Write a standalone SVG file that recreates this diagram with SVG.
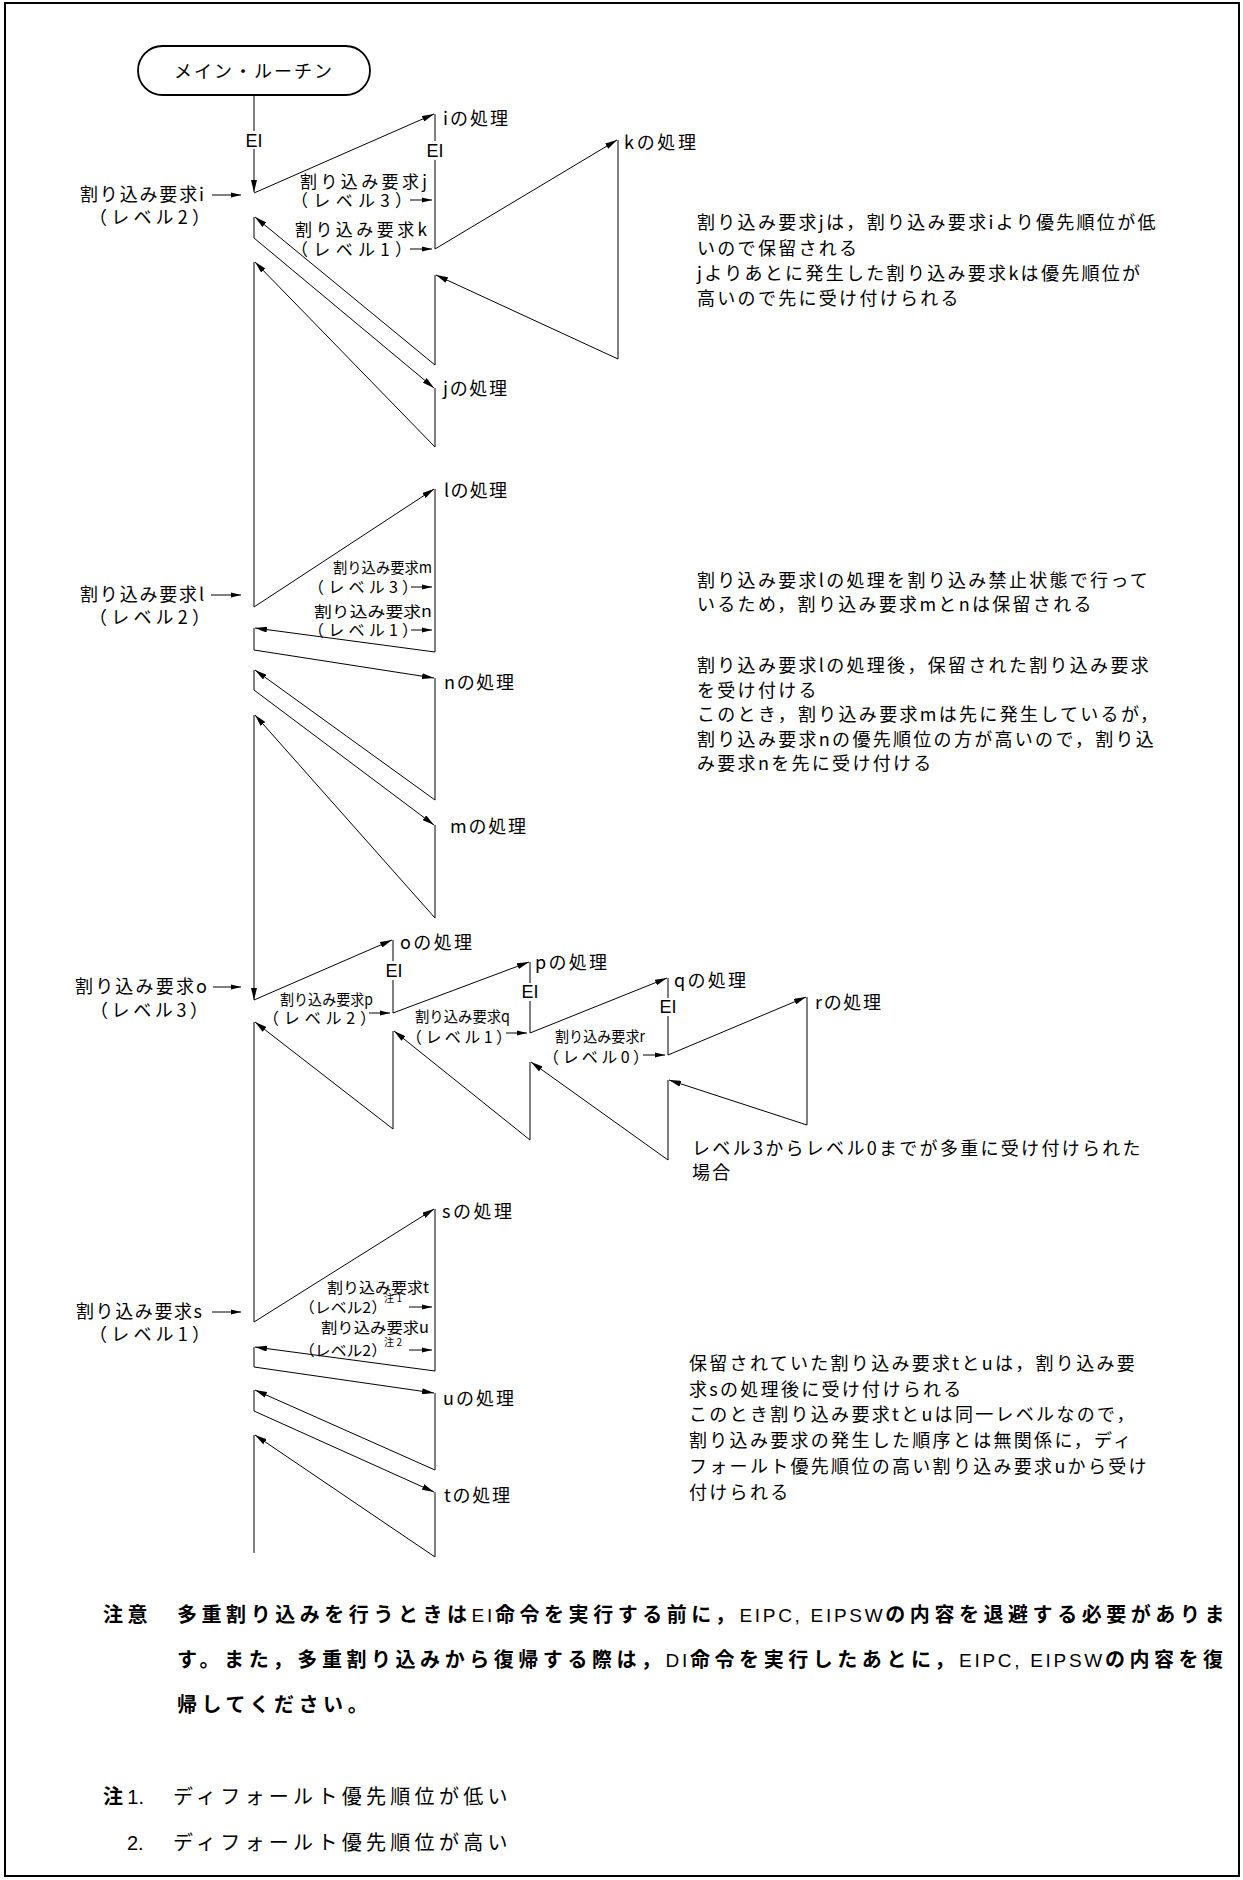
<svg xmlns="http://www.w3.org/2000/svg" width="1243" height="1880" viewBox="0 0 1243 1880">
<style>
.ln{stroke:#000;stroke-width:1;fill:none}
.ar{marker-end:url(#ah)}
.sa{marker-end:url(#sh)}
.jp{font-family:"Noto Sans CJK JP","Noto Sans CJK SC",sans-serif;font-size:18px;fill:#000}
.md{font-size:17px}
.sm{font-size:15px}
.lv{font-size:16px}
.ei{font-family:"Liberation Sans",Arial,sans-serif;font-size:18px;fill:#000;text-anchor:middle}
.rt{font-family:"Noto Sans CJK JP","Noto Sans CJK SC",sans-serif;font-size:18px;letter-spacing:2.3px;fill:#000}
.bd{font-family:"Noto Sans CJK JP","Noto Sans CJK SC",sans-serif;font-size:20px;font-weight:bold;letter-spacing:4.55px;fill:#000}
.lt{font-family:"Liberation Sans",Arial,sans-serif;font-weight:normal;font-size:19px;letter-spacing:2.7px}
.nt{font-family:"Noto Sans CJK JP","Noto Sans CJK SC",sans-serif;font-size:20px;letter-spacing:4.3px;fill:#000}
</style>
<defs>
<marker id="ah" markerUnits="userSpaceOnUse" markerWidth="12" markerHeight="6" refX="12" refY="3" orient="auto"><path d="M0,0 L12,3 L0,6 z" fill="#000"/></marker>
<marker id="sh" markerUnits="userSpaceOnUse" markerWidth="10" markerHeight="6" refX="10" refY="3" orient="auto"><path d="M0,0.5 L10,3 L0,5.5 z" fill="#000"/></marker>
</defs>
<rect x="0" y="0" width="1243" height="1880" fill="#fff"/>
<rect x="5" y="3" width="1234" height="1873" fill="none" stroke="#000" stroke-width="2"/>

<g id="main-routine">
<rect x="138" y="46" width="232" height="49" rx="24.5" fill="#fff" stroke="#000" stroke-width="1.8"/>
<text class="jp" x="254" y="78" text-anchor="middle" letter-spacing="2">メイン・ルーチン</text>
</g>

<g id="connectors" class="ln">
<line x1="254" y1="95" x2="254" y2="131"/>
<line class="ar" x1="254" y1="149" x2="254" y2="192"/>
<line class="ar" x1="254" y1="193" x2="434" y2="114"/>
<line x1="435" y1="114" x2="435" y2="141"/>
<line x1="435" y1="160" x2="435" y2="249"/>
<line class="ar" x1="435" y1="249" x2="617" y2="140"/>
<line x1="618" y1="140" x2="618" y2="359"/>
<line class="ar" x1="618" y1="359" x2="436" y2="275"/>
<line x1="435" y1="275" x2="435" y2="365"/>
<line class="ar" x1="435" y1="365" x2="255" y2="217"/>
<line x1="254" y1="217" x2="254" y2="238"/>
<line class="ar" x1="254" y1="238" x2="434" y2="388"/>
<line x1="435" y1="388" x2="435" y2="447"/>
<line class="ar" x1="435" y1="447" x2="255" y2="262"/>
<line x1="254" y1="262" x2="254" y2="607"/>
<line class="ar" x1="254" y1="607" x2="434" y2="489"/>
<line x1="435" y1="489" x2="435" y2="652"/>
<line class="ar" x1="435" y1="652" x2="255" y2="628"/>
<line x1="254" y1="628" x2="254" y2="650"/>
<line class="ar" x1="254" y1="650" x2="434" y2="678"/>
<line x1="435" y1="678" x2="435" y2="800"/>
<line class="ar" x1="435" y1="800" x2="255" y2="670"/>
<line x1="254" y1="670" x2="254" y2="690"/>
<line class="ar" x1="254" y1="690" x2="434" y2="825"/>
<line x1="435" y1="825" x2="435" y2="918"/>
<line class="ar" x1="435" y1="918" x2="255" y2="715"/>
<line class="ar" x1="254" y1="715" x2="254" y2="1000"/>
<line class="ar" x1="254" y1="1000" x2="392" y2="940"/>
<line x1="393" y1="940" x2="393" y2="961"/>
<line x1="393" y1="980" x2="393" y2="1013"/>
<line class="ar" x1="393" y1="1013" x2="529" y2="962"/>
<line x1="530" y1="962" x2="530" y2="983"/>
<line x1="530" y1="1001" x2="530" y2="1033"/>
<line class="ar" x1="530" y1="1033" x2="667" y2="978"/>
<line x1="668" y1="978" x2="668" y2="998"/>
<line x1="668" y1="1016" x2="668" y2="1055"/>
<line class="ar" x1="668" y1="1055" x2="806" y2="997"/>
<line x1="807" y1="997" x2="807" y2="1125"/>
<line class="ar" x1="807" y1="1125" x2="669" y2="1080"/>
<line x1="668" y1="1080" x2="668" y2="1160"/>
<line class="ar" x1="668" y1="1160" x2="531" y2="1062"/>
<line x1="530" y1="1062" x2="530" y2="1140"/>
<line class="ar" x1="530" y1="1140" x2="394" y2="1031"/>
<line x1="393" y1="1031" x2="393" y2="1129"/>
<line class="ar" x1="393" y1="1129" x2="255" y2="1022"/>
<line x1="254" y1="1022" x2="254" y2="1322"/>
<line class="ar" x1="254" y1="1322" x2="434" y2="1209"/>
<line x1="435" y1="1209" x2="435" y2="1371"/>
<line class="ar" x1="435" y1="1371" x2="255" y2="1347"/>
<line x1="254" y1="1347" x2="254" y2="1367"/>
<line class="ar" x1="254" y1="1367" x2="434" y2="1393"/>
<line x1="435" y1="1393" x2="435" y2="1470"/>
<line class="ar" x1="435" y1="1470" x2="255" y2="1390"/>
<line x1="254" y1="1390" x2="254" y2="1411"/>
<line class="ar" x1="254" y1="1411" x2="434" y2="1492"/>
<line x1="435" y1="1492" x2="435" y2="1557"/>
<line class="ar" x1="435" y1="1557" x2="255" y2="1435"/>
<line x1="254" y1="1435" x2="254" y2="1553"/>
<line class="sa" x1="212" y1="195" x2="241" y2="195"/>
<line class="sa" x1="410" y1="200" x2="432" y2="200"/>
<line class="sa" x1="410" y1="249" x2="432" y2="249"/>
<line class="sa" x1="211" y1="595" x2="241" y2="595"/>
<line class="sa" x1="411" y1="587" x2="432" y2="587"/>
<line class="sa" x1="411" y1="630" x2="432" y2="630"/>
<line class="sa" x1="213" y1="987" x2="241" y2="987"/>
<line class="sa" x1="369" y1="1013" x2="390" y2="1013"/>
<line class="sa" x1="506" y1="1033" x2="527" y2="1033"/>
<line class="sa" x1="643" y1="1055" x2="665" y2="1055"/>
<line class="sa" x1="212" y1="1312" x2="241" y2="1312"/>
<line class="sa" x1="409" y1="1307" x2="432" y2="1307"/>
<line class="sa" x1="409" y1="1350" x2="432" y2="1350"/>
</g>

<g id="ei-labels">
<text class="ei" x="254" y="147">EI</text>
<text class="ei" x="435" y="157">EI</text>
<text class="ei" x="394" y="977">EI</text>
<text class="ei" x="530" y="998">EI</text>
<text class="ei" x="668" y="1013">EI</text>
</g>

<g id="req-i">
<text class="jp" x="80" y="201" textLength="124">割り込み要求i</text>
<text class="jp" x="89" y="224" textLength="121">（レベル2）</text>
</g>
<g id="proc-i"><text class="jp" x="443" y="125" textLength="65">iの処理</text></g>
<g id="req-j">
<text class="jp md" x="300" y="188" textLength="127">割り込み要求j</text>
<text class="jp md" x="291" y="207" textLength="121">（レベル3）</text>
</g>
<g id="req-k">
<text class="jp md" x="295" y="236" textLength="132">割り込み要求k</text>
<text class="jp md" x="291" y="256" textLength="121">（レベル1）</text>
</g>
<g id="proc-k"><text class="jp" x="624" y="149" textLength="72">kの処理</text></g>
<g id="proc-j"><text class="jp" x="443" y="395" textLength="64">jの処理</text></g>

<g id="req-l">
<text class="jp" x="80" y="601" textLength="124">割り込み要求l</text>
<text class="jp" x="89" y="624" textLength="121">（レベル2）</text>
</g>
<g id="proc-l"><text class="jp" x="444" y="497" textLength="63">lの処理</text></g>
<g id="req-m">
<text class="jp sm" x="333" y="573" textLength="99" lengthAdjust="spacingAndGlyphs">割り込み要求m</text>
<text class="jp lv" x="308" y="593" textLength="110">（レベル3）</text>
</g>
<g id="req-n">
<text class="jp sm" x="314" y="617" textLength="118" lengthAdjust="spacingAndGlyphs">割り込み要求n</text>
<text class="jp lv" x="308" y="636" textLength="110">（レベル1）</text>
</g>
<g id="proc-n"><text class="jp" x="444" y="689" textLength="70">nの処理</text></g>
<g id="proc-m"><text class="jp" x="450" y="833" textLength="76">mの処理</text></g>

<g id="req-o">
<text class="jp" x="75" y="993" textLength="132">割り込み要求o</text>
<text class="jp" x="90" y="1017" textLength="118">（レベル3）</text>
</g>
<g id="proc-o"><text class="jp" x="400" y="949" textLength="72">oの処理</text></g>
<g id="req-p">
<text class="jp sm" x="280" y="1005" textLength="93" lengthAdjust="spacingAndGlyphs">割り込み要求p</text>
<text class="jp lv" x="263" y="1024" textLength="113">（レベル2）</text>
</g>
<g id="proc-p"><text class="jp" x="535" y="969" textLength="72">pの処理</text></g>
<g id="req-q">
<text class="jp sm" x="415" y="1022" textLength="95" lengthAdjust="spacingAndGlyphs">割り込み要求q</text>
<text class="jp lv" x="406" y="1043" textLength="106">（レベル1）</text>
</g>
<g id="proc-q"><text class="jp" x="674" y="987" textLength="72">qの処理</text></g>
<g id="req-r">
<text class="jp sm" x="555" y="1042" textLength="90" lengthAdjust="spacingAndGlyphs">割り込み要求r</text>
<text class="jp lv" x="543" y="1063" textLength="106">（レベル0）</text>
</g>
<g id="proc-r"><text class="jp" x="815" y="1009" textLength="66">rの処理</text></g>

<g id="req-s">
<text class="jp" x="76" y="1318" textLength="126">割り込み要求s</text>
<text class="jp" x="89" y="1341" textLength="121">（レベル1）</text>
</g>
<g id="proc-s"><text class="jp" x="442" y="1218" textLength="70">sの処理</text></g>
<g id="req-t">
<text class="jp sm" x="327" y="1293" textLength="102" lengthAdjust="spacingAndGlyphs">割り込み要求t</text>
<text class="jp sm" x="299" y="1313" textLength="88" lengthAdjust="spacingAndGlyphs">（レベル2）</text>
<text class="jp" x="384" y="1302" style="font-size:10px" textLength="18">注1</text>
</g>
<g id="req-u">
<text class="jp sm" x="321" y="1333" textLength="108" lengthAdjust="spacingAndGlyphs">割り込み要求u</text>
<text class="jp sm" x="299" y="1356" textLength="88" lengthAdjust="spacingAndGlyphs">（レベル2）</text>
<text class="jp" x="384" y="1346" style="font-size:10px" textLength="18">注2</text>
</g>
<g id="proc-u"><text class="jp" x="443" y="1405" textLength="71">uの処理</text></g>
<g id="proc-t"><text class="jp" x="444" y="1502" textLength="66">tの処理</text></g>

<g id="note-jk">
<text class="rt" x="697" y="229">割り込み要求jは，割り込み要求iより優先順位が低</text>
<text class="rt" x="697" y="255">いので保留される</text>
<text class="rt" x="697" y="280">jよりあとに発生した割り込み要求kは優先順位が</text>
<text class="rt" x="697" y="305">高いので先に受け付けられる</text>
</g>
<g id="note-lmn">
<text class="rt" x="697" y="587">割り込み要求lの処理を割り込み禁止状態で行って</text>
<text class="rt" x="697" y="611">いるため，割り込み要求mとnは保留される</text>
<text class="rt" x="697" y="672">割り込み要求lの処理後，保留された割り込み要求</text>
<text class="rt" x="697" y="697">を受け付ける</text>
<text class="rt" x="697" y="721">このとき，割り込み要求mは先に発生しているが，</text>
<text class="rt" x="697" y="746">割り込み要求nの優先順位の方が高いので，割り込</text>
<text class="rt" x="697" y="770">み要求nを先に受け付ける</text>
</g>
<g id="note-opqr">
<text class="rt" x="692" y="1155">レベル3からレベル0までが多重に受け付けられた</text>
<text class="rt" x="692" y="1179">場合</text>
</g>
<g id="note-stu">
<text class="rt" x="689" y="1370">保留されていた割り込み要求tとuは，割り込み要</text>
<text class="rt" x="689" y="1396">求sの処理後に受け付けられる</text>
<text class="rt" x="689" y="1421">このとき割り込み要求tとuは同一レベルなので，</text>
<text class="rt" x="689" y="1447">割り込み要求の発生した順序とは無関係に，ディ</text>
<text class="rt" x="689" y="1473">フォールト優先順位の高い割り込み要求uから受け</text>
<text class="rt" x="689" y="1499">付けられる</text>
</g>

<g id="caution">
<text class="bd" x="103" y="1622">注意</text>
<text class="bd" x="177" y="1622">多重割り込みを行うときは<tspan class="lt">EI</tspan>命令を実行する前に，<tspan class="lt">EIPC, EIPSW</tspan>の内容を退避する必要がありま</text>
<text class="bd" x="177" y="1667">す。また，多重割り込みから復帰する際は，<tspan class="lt">DI</tspan>命令を実行したあとに，<tspan class="lt">EIPC, EIPSW</tspan>の内容を復</text>
<text class="bd" x="177" y="1712">帰してください。</text>
</g>
<g id="notes">
<text class="nt" x="103" y="1804"><tspan font-weight="bold">注</tspan><tspan style="font-family:'Liberation Sans',Arial,sans-serif;letter-spacing:0">1.</tspan></text>
<text class="nt" x="173" y="1804">ディフォールト優先順位が低い</text>
<text class="nt" x="127" y="1850" style="font-family:'Liberation Sans',Arial,sans-serif;letter-spacing:0">2.</text>
<text class="nt" x="173" y="1850">ディフォールト優先順位が高い</text>
</g>
</svg>
